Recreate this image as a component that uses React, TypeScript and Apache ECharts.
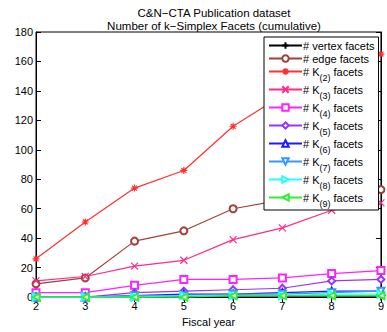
import React, { useEffect, useRef } from "react";
import * as echarts from "echarts";

const years = [2, 3, 4, 5, 6, 7, 8, 9];
const vertexFacets = [0, 0, 0, 0, 0, 0, 0, 0];
const edgeFacets = [9, 13, 38, 45, 60, 66, 70, 73];
const k2Facets = [26, 51, 74, 86, 116, 137, 150, 165];
const k3Facets = [11, 14, 21, 25, 39, 47, 59, 64];
const k4Facets = [3, 3, 8, 12, 12, 13, 16, 18];
const k5Facets = [0, 0, 3, 4, 5, 6, 11, 12];
const k6Facets = [0, 0, 1, 2, 2, 3, 4, 4];
const k7Facets = [0, 0, 1, 1, 2, 2, 3, 4];
const k8Facets = [0, 0, 0, 1, 1, 1, 2, 2];
const k9Facets = [0, 0, 0, 0, 1, 1, 1, 1];

const yTicks = [0, 20, 40, 60, 80, 100, 120, 140, 160, 180];

const seriesDefs = [
  { name: "vertex", label: "# vertex facets", data: vertexFacets, color: "#000000", symbol: "path://M0,5L10,5M5,0L5,10", rotate: 0 },
  { name: "edge", label: "# edge facets", data: edgeFacets, color: "#a0403a", symbol: "emptyCircle", rotate: 0 },
  { name: "K2", label: "# K{s|(2)} facets", data: k2Facets, color: "#ff3030", symbol: "path://M0,5L10,5M5,0L5,10M1.5,1.5L8.5,8.5M8.5,1.5L1.5,8.5", rotate: 0 },
  { name: "K3", label: "# K{s|(3)} facets", data: k3Facets, color: "#ff2a8a", symbol: "path://M0,0L10,10M10,0L0,10", rotate: 0 },
  { name: "K4", label: "# K{s|(4)} facets", data: k4Facets, color: "#ff22ff", symbol: "emptyRect", rotate: 0 },
  { name: "K5", label: "# K{s|(5)} facets", data: k5Facets, color: "#9933ff", symbol: "emptyDiamond", rotate: 0 },
  { name: "K6", label: "# K{s|(6)} facets", data: k6Facets, color: "#1a1aff", symbol: "emptyTriangle", rotate: 0 },
  { name: "K7", label: "# K{s|(7)} facets", data: k7Facets, color: "#3399ff", symbol: "emptyTriangle", rotate: 180 },
  { name: "K8", label: "# K{s|(8)} facets", data: k8Facets, color: "#22ffff", symbol: "emptyTriangle", rotate: -90 },
  { name: "K9", label: "# K{s|(9)} facets", data: k9Facets, color: "#33ee33", symbol: "emptyTriangle", rotate: 90 },
];

export default function App() {
  const ref = useRef<HTMLDivElement>(null);
  useEffect(() => {
    if (!ref.current) return;
    const chart = echarts.init(ref.current, null, { renderer: "svg" });
    const font = "Liberation Sans, Arial, sans-serif";
    const labelMap: Record<string, string> = {};
    seriesDefs.forEach((s) => (labelMap[s.name] = s.label));
    chart.setOption({
      animation: false,
      backgroundColor: "#ffffff",
      title: {
        text: "C&N\u2212CTA Publication dataset\nNumber of k\u2212Simplex Facets (cumulative)",
        left: 209,
        top: 1,
        textAlign: "center",
        textStyle: { fontFamily: font, fontSize: 11.5, fontWeight: "normal", color: "#000", lineHeight: 13 },
      },
      grid: { left: 36, right: 4, top: 32, bottom: 32, show: true, borderColor: "#000", borderWidth: 1 },
      legend: {
        orient: "vertical",
        left: 264,
        top: 37,
        width: 114,
        itemWidth: 33,
        itemHeight: 8,
        itemGap: 2,
        borderColor: "#000",
        borderWidth: 1,
        backgroundColor: "#fff",
        padding: [3, 4, 2, 4],
        data: seriesDefs.map((s) => s.name),
        formatter: (name: string) => labelMap[name],
        textStyle: {
          fontFamily: font,
          fontSize: 11,
          color: "#000",
          padding: [0, 0, 0, -4],
          rich: {
            s: { fontFamily: font, fontSize: 9, color: "#000", padding: [12, 0, 0, 0] },
          },
        },
      },
      xAxis: [
        {
          type: "value",
          min: 2,
          max: 9,
          interval: 1,
          position: "bottom",
          name: "Fiscal year",
          nameLocation: "middle",
          nameGap: 17,
          nameTextStyle: { fontFamily: font, fontSize: 11, color: "#000" },
          axisLine: { lineStyle: { color: "#000" } },
          axisTick: { inside: true, length: 5, lineStyle: { color: "#000" } },
          axisLabel: { fontFamily: font, fontSize: 11, color: "#000", margin: 3 },
          splitLine: { show: false },
        },
        {
          type: "value",
          min: 2,
          max: 9,
          interval: 1,
          position: "top",
          axisLine: { lineStyle: { color: "#000" } },
          axisTick: { inside: true, length: 5, lineStyle: { color: "#000" } },
          axisLabel: { show: false },
          splitLine: { show: false },
        },
      ],
      yAxis: [
        {
          type: "value",
          min: 0,
          max: 180,
          interval: 20,
          position: "left",
          axisLine: { show: true, lineStyle: { color: "#000" } },
          axisTick: { show: true, inside: true, length: 5, lineStyle: { color: "#000" } },
          axisLabel: {
            fontFamily: font,
            fontSize: 11,
            color: "#000",
            margin: 3,
            formatter: (v: number) => (yTicks.includes(v) ? String(v) : ""),
          },
          splitLine: { show: false },
        },
        {
          type: "value",
          min: 0,
          max: 180,
          interval: 20,
          position: "right",
          axisLine: { show: true, lineStyle: { color: "#000" } },
          axisTick: { show: true, inside: true, length: 5, lineStyle: { color: "#000" } },
          axisLabel: { show: false },
          splitLine: { show: false },
        },
      ],
      series: seriesDefs.map((s) => ({
        name: s.name,
        type: "line",
        xAxisIndex: 0,
        yAxisIndex: 0,
        data: years.map((y, i) => [y, s.data[i]]),
        color: s.color,
        symbol: s.symbol,
        symbolSize: 7,
        symbolRotate: s.rotate,
        showSymbol: true,
        clip: false,
        lineStyle: { width: 1.2, color: s.color },
        itemStyle: { color: s.color, borderColor: s.color, borderWidth: 1.2 },
      })),
    });
    return () => chart.dispose();
  }, []);
  return <div ref={ref} style={{ width: 387, height: 332, position: "absolute", left: 0, top: 0 }} />;
}
